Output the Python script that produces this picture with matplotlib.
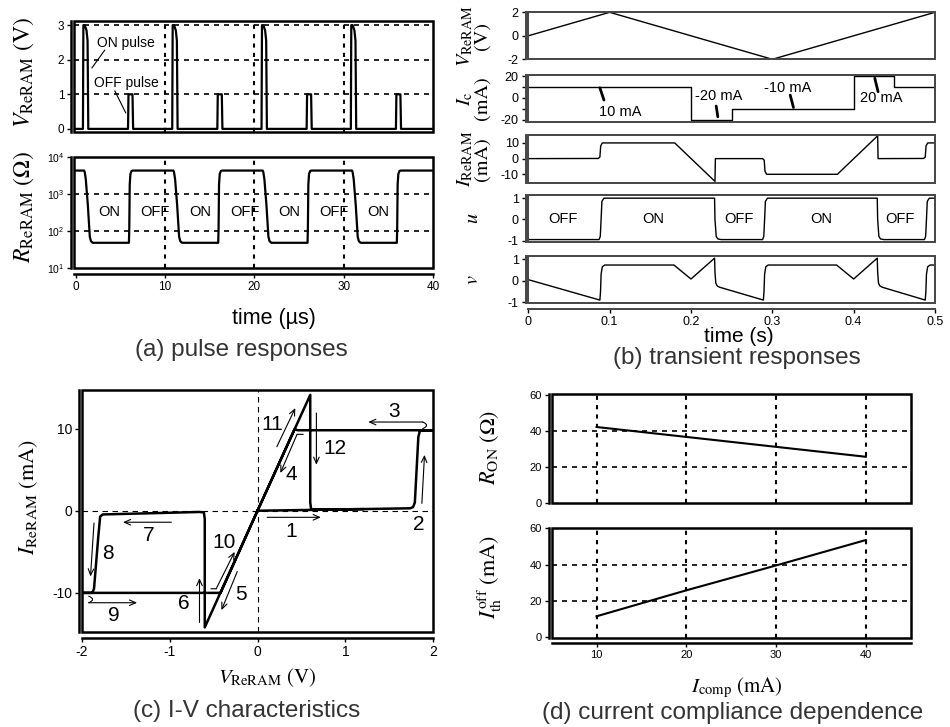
import matplotlib
matplotlib.use("Agg")
import matplotlib.pyplot as plt
from matplotlib.patches import Rectangle
from matplotlib.ticker import NullLocator

plt.rcParams["font.family"] = "Liberation Sans"
plt.rcParams["mathtext.fontset"] = "stix"
plt.rcParams["axes.unicode_minus"] = False

# ---------------- (a) pulse responses ----------------
pulse_time = [
    0, 0.80, 0.85, 1.00, 1.20, 1.32, 1.40, 5.85, 5.90, 6.35, 6.42,
    10.80, 10.85, 11.00, 11.20, 11.32, 11.40, 15.85, 15.90, 16.35, 16.42,
    20.80, 20.85, 21.00, 21.20, 21.32, 21.40, 25.85, 25.90, 26.35, 26.42,
    30.80, 30.85, 31.00, 31.20, 31.32, 31.40, 35.85, 35.90, 36.35, 36.42,
    40]
pulse_volt = [
    0, 0, 3.0, 3.0, 2.85, 2.55, 0, 0, 1.0, 1.0, 0,
    0, 3.0, 3.0, 2.85, 2.55, 0, 0, 1.0, 1.0, 0,
    0, 3.0, 3.0, 2.85, 2.55, 0, 0, 1.0, 1.0, 0,
    0, 3.0, 3.0, 2.85, 2.55, 0, 0, 1.0, 1.0, 0,
    0]

res_time = [
    0, 0.93, 1.00, 1.12, 1.35, 1.57, 1.70, 1.90, 5.95, 5.99, 6.04, 6.12, 6.25, 6.40,
    10.93, 11.00, 11.12, 11.35, 11.57, 11.70, 11.90, 15.95, 15.99, 16.04, 16.12, 16.25, 16.40,
    20.93, 21.00, 21.12, 21.35, 21.57, 21.70, 21.90, 25.95, 25.99, 26.04, 26.12, 26.25, 26.40,
    30.93, 31.00, 31.12, 31.35, 31.57, 31.70, 31.90, 35.95, 35.99, 36.04, 36.12, 36.25, 36.40,
    40]
res_ohm = [
    4300, 4300, 3900, 2500, 500, 70, 53, 48, 48, 120, 1800, 3500, 4200, 4300,
    4300, 3900, 2500, 500, 70, 53, 48, 48, 120, 1800, 3500, 4200, 4300,
    4300, 3900, 2500, 500, 70, 53, 48, 48, 120, 1800, 3500, 4200, 4300,
    4300, 3900, 2500, 500, 70, 53, 48, 48, 120, 1800, 3500, 4200, 4300,
    4300]

state_text = ["ON", "OFF", "ON", "OFF", "ON", "OFF", "ON"]
state_time = [3.8, 8.85, 13.9, 18.9, 23.9, 28.9, 33.9]

# ---------------- (b) transient responses ----------------
b_vt = [0, 0.1, 0.3, 0.5]
b_v = [0, 2, -2, 2]

b_ict = [0, 0.2, 0.2, 0.25, 0.25, 0.4, 0.4, 0.45, 0.45, 0.5]
b_ic = [10, 10, -20, -20, -10, -10, 20, 20, 10, 10]

b_it = [0, 0.086, 0.088, 0.089, 0.091, 0.18, 0.2295, 0.2300, 0.288, 0.290, 0.291,
        0.293, 0.38, 0.4295, 0.4300, 0.486, 0.488, 0.489, 0.491, 0.5]
b_i = [0, 0.1, 1.0, 8.0, 9.9, 9.9, -14.4, 0, 0, -1.0, -8.0,
       -9.9, -9.9, 14.4, 0, 0.1, 1.0, 8.0, 9.9, 9.9]

b_ut = [0, 0.087, 0.0885, 0.0895, 0.0905, 0.093, 0.229, 0.2295, 0.231, 0.233, 0.237,
        0.288, 0.2895, 0.2905, 0.2915, 0.294, 0.429, 0.4295, 0.431, 0.433, 0.437,
        0.487, 0.4885, 0.4895, 0.4905, 0.493, 0.5]
b_u = [-0.95, -0.95, -0.8, 0.0, 0.85, 1.0, 1.0, 0.0, -0.8, -0.92, -0.95,
       -0.95, -0.8, 0.0, 0.85, 1.0, 1.0, 0.0, -0.8, -0.92, -0.95,
       -0.95, -0.8, 0.0, 0.85, 1.0, 1.0]

b_vvt = [0, 0.088, 0.0888, 0.0895, 0.091, 0.094, 0.179, 0.2, 0.229, 0.2295, 0.2305,
         0.232, 0.235, 0.289, 0.2898, 0.2905, 0.292, 0.295, 0.379, 0.4, 0.429,
         0.4295, 0.4305, 0.432, 0.435, 0.488, 0.4888, 0.4895, 0.491, 0.494, 0.5]
b_vv = [0.05, -0.9, -0.5, 0.3, 0.65, 0.73, 0.73, 0.08, 1.05, 0.4, -0.1,
        -0.23, -0.3, -0.9, -0.5, 0.3, 0.65, 0.73, 0.73, 0.08, 1.05,
        0.4, -0.1, -0.23, -0.3, -0.9, -0.5, 0.3, 0.65, 0.73, 0.73]

u_text = ["OFF", "ON", "OFF", "ON", "OFF"]
u_text_time = [0.043, 0.154, 0.259, 0.36, 0.457]

# ---------------- (c) I-V characteristics ----------------
iv_volt = [0, 0.6, 1.2, 1.74, 1.77, 1.79, 1.81, 1.83, 1.85, 2.0, 0.46, 0.42,
           0, -0.6, -0.6, -0.61, -0.66, -1.2, -1.76, -1.79, -1.81, -1.86, -1.88,
           -2.0, -0.42, 0, 0.6, 0.6, 0.61, 0.66, 1.2]
iv_curr = [0, 0.1, 0.2, 0.3, 0.45, 1.0, 5.0, 9.0, 9.8, 9.8, 9.8, 9.9,
           0, -14.2, -1.0, -0.2, -0.15, -0.3, -0.45, -0.7, -3.0, -9.5, -10.0,
           -10.0, -10.0, 0, 14.1, 1.0, 0.2, 0.15, 0.2]

# ---------------- (d) current compliance dependence ----------------
i_comp = [10, 20, 30, 40]
r_on = [42, 36.5, 31, 25.5]
i_th_off = [11.5, 25.8, 39.5, 53.5]

W, H = 950, 727
fig = plt.figure(figsize=(W / 100, H / 100), dpi=100)

SERIF = "STIXGeneral"
CAP = dict(fontsize=17.5, color="#333333", ha="center", va="center")
VGRID = dict(color="black", lw=1.5, ls=(0, (2, 2.5)), zorder=1)
HGRID = dict(color="black", lw=1.2, ls=(0, (3, 3)), zorder=1)


def px_axes(left, top, right, bottom):
    return fig.add_axes([left / W, 1 - bottom / H, (right - left) / W, (bottom - top) / H])


def style_axes(ax, lw=1.8, color="black", xaxis=True, tick_size=8.5):
    for side in ("top", "right"):
        ax.spines[side].set_visible(False)
    ax.spines["left"].set_position(("outward", 2))
    ax.spines["left"].set_linewidth(lw)
    ax.spines["left"].set_color(color)
    if xaxis:
        ax.spines["bottom"].set_position(("outward", 4))
        ax.spines["bottom"].set_linewidth(lw)
        ax.spines["bottom"].set_color(color)
    else:
        ax.spines["bottom"].set_visible(False)
        ax.set_xticks([])
    ax.add_patch(Rectangle((0, 0), 1, 1, transform=ax.transAxes, fill=False,
                           lw=lw, ec=color, clip_on=False, zorder=4))
    ax.tick_params(direction="out", length=3, width=1, labelsize=tick_size, pad=2)


def ftext(x, y, s, **kw):
    fig.text(x / W, 1 - y / H, s, **kw)


# ---- (a) top
ax = px_axes(74, 21, 433, 132)
style_axes(ax, xaxis=False)
ax.plot(pulse_time, pulse_volt, color="black", lw=1.6, zorder=3)
for x in [10, 20, 30]:
    ax.axvline(x, **VGRID)
for y in [1, 2, 3]:
    ax.axhline(y, **HGRID)
ax.set_xlim(-0.2, 40)
ax.set_ylim(-0.09, 3.12)
ax.set_yticks([0, 1, 2, 3])
ax.text(5.6, 2.48, "ON pulse", fontsize=10, ha="center", va="center", zorder=5)
ax.annotate("", xy=(1.8, 1.76), xytext=(3.25, 2.28),
            arrowprops=dict(arrowstyle="-", lw=0.8, shrinkA=0, shrinkB=0))
ax.text(5.7, 1.33, "OFF pulse", fontsize=10, ha="center", va="center", zorder=5)
ax.annotate("", xy=(5.6, 0.46), xytext=(4.37, 1.1),
            arrowprops=dict(arrowstyle="-", lw=0.8, shrinkA=0, shrinkB=0))
ftext(24, 72, "$V_{\\mathrm{ReRAM}}$ (V)", rotation=90, fontsize=17,
      fontfamily=SERIF, ha="center", va="center")

# ---- (a) bottom
ax = px_axes(74, 157, 433, 268)
style_axes(ax)
ax.plot(res_time, res_ohm, color="black", lw=1.6, zorder=3)
ax.set_yscale("log")
for x in [10, 20, 30]:
    ax.axvline(x, **VGRID)
for y in [100, 1000]:
    ax.axhline(y, **HGRID)
ax.set_xlim(-0.2, 40)
ax.set_ylim(10.5, 1e4)
ax.set_yticks([10, 100, 1000, 10000])
ax.yaxis.set_minor_locator(NullLocator())
ax.set_xticks([0, 10, 20, 30, 40])
ax.tick_params(axis="y", labelsize=7.5)
for s, t in zip(state_text, state_time):
    ax.text(t, 330, s, fontsize=10.5, ha="center", va="center", zorder=5)
ftext(24, 207, "$R_{\\mathrm{ReRAM}}$ ($\\Omega$)", rotation=90, fontsize=17,
      fontfamily=SERIF, ha="center", va="center")
ftext(274, 318, "time (µs)", fontsize=15.5, ha="center", va="center")
ftext(241, 350, "(a) pulse responses", **CAP)

# ---- (b) panels
b_boxes = [(12.3, 59.3), (75, 121.7), (135, 182.7), (195, 241.7), (256, 303.3)]
b_series = [(b_vt, b_v), (b_ict, b_ic), (b_it, b_i), (b_ut, b_u), (b_vvt, b_vv)]
b_ylims = [(-2, 2), (-22, 21), (-15.2, 14.9), (-1.05, 1.15), (-1.05, 1.15)]
b_yticks = [[-2, 0, 2], [-20, -10, 0, 10, 20], [-10, 0, 10], [-1, 0, 1], [-1, 0, 1]]
b_labels = ["$V_{\\mathrm{ReRAM}}$\n(V)", "$I_{\\mathrm{c}}$\n(mA)",
            "$I_{\\mathrm{ReRAM}}$\n(mA)", "$u$", "$v$"]
b_axes = []
for k, ((top, bot), (xs, ys)) in enumerate(zip(b_boxes, b_series)):
    ax = px_axes(528.3, top, 935, bot)
    style_axes(ax, lw=1.4, color="#444444", xaxis=(k == 4), tick_size=9)
    ax.plot(xs, ys, color="black", lw=1.0, zorder=3)
    ax.set_xlim(0, 0.5)
    ax.set_ylim(*b_ylims[k])
    ax.set_yticks(b_yticks[k])
    b_axes.append(ax)
    ftext(473, (top + bot) / 2, b_labels[k], rotation=90, fontsize=14.5,
          fontfamily=SERIF, ha="center", va="center", multialignment="center",
          linespacing=0.85)

b_axes[1].set_yticklabels(["-20", "", "0", "", "20"])
b_axes[4].set_xticks([0, 0.1, 0.2, 0.3, 0.4, 0.5])
b_axes[4].set_xticklabels(["0", "0.1", "0.2", "0.3", "0.4", "0.5"])

LEAD = dict(arrowstyle="-", lw=2.0, shrinkA=0, shrinkB=0)
axc = b_axes[1]
axc.text(0.113, -13, "10 mA", fontsize=10.5, ha="center", va="center")
axc.annotate("", xy=(0.093, -2.1), xytext=(0.088, 9.2), arrowprops=LEAD)
axc.text(0.234, 1.5, "-20 mA", fontsize=10.5, ha="center", va="center")
axc.annotate("", xy=(0.233, -17.5), xytext=(0.231, -7.6), arrowprops=LEAD)
axc.text(0.319, 9.0, "-10 mA", fontsize=10.5, ha="center", va="center")
axc.annotate("", xy=(0.326, -8.9), xytext=(0.322, 2.5), arrowprops=LEAD)
axc.text(0.434, -0.6, "20 mA", fontsize=10.5, ha="center", va="center")
axc.annotate("", xy=(0.43, 5.6), xytext=(0.426, 18), arrowprops=LEAD)

for s, t in zip(u_text, u_text_time):
    b_axes[3].text(t, 0, s, fontsize=10.5, ha="center", va="center")

ftext(739, 337, "time (s)", fontsize=15, ha="center", va="center")
ftext(737, 358, "(b) transient responses", **CAP)

# ---- (c) I-V
ax = px_axes(81.7, 390, 433.3, 632.3)
style_axes(ax, tick_size=10)
ax.axhline(0, color="black", lw=0.8, ls=(0, (5, 4)), zorder=1)
ax.axvline(0, color="black", lw=0.8, ls=(0, (5, 4)), zorder=1)
ax.plot(iv_volt, iv_curr, color="black", lw=1.8, zorder=3)
ax.set_xlim(-2, 2)
ax.set_ylim(-14.8, 14.7)
ax.set_xticks([-2, -1, 0, 1, 2])
ax.set_yticks([-10, 0, 10])

ARR = dict(arrowstyle="->,head_length=0.45,head_width=0.2", lw=0.8,
           shrinkA=0, shrinkB=0)
PLAIN = dict(arrowstyle="-", lw=0.8, shrinkA=0, shrinkB=0)
iv_notes = [
    ("1", (0.38, -2.5), (0.11, -0.8), (0.72, -0.8)),
    ("2", (1.84, -1.7), (1.87, 0.9), (1.90, 6.8)),
    ("3", (1.55, 12.1), (1.88, 10.8), (1.26, 10.8)),
    ("4", (0.38, 4.4), (0.45, 9.3), (0.26, 4.6)),
    ("5", (-0.19, -10.2), (-0.23, -7.4), (-0.41, -12.1)),
    ("6", (-0.84, -11.3), (-0.66, -13.6), (-0.66, -8.2)),
    ("7", (-1.24, -3.0), (-0.98, -1.4), (-1.53, -1.4)),
    ("8", (-1.70, -5.2), (-1.86, -1.5), (-1.90, -8.0)),
    ("9", (-1.64, -12.7), (-1.92, -11.2), (-1.37, -11.2)),
    ("10", (-0.38, -3.9), (-0.47, -9.5), (-0.26, -5.0)),
    ("11", (0.17, 10.5), (0.22, 7.8), (0.43, 12.5)),
    ("12", (0.88, 7.6), (0.67, 11.9), (0.67, 5.6)),
]
for s, pos, start, end in iv_notes:
    ax.text(pos[0], pos[1], s, fontsize=15, ha="center", va="center")
    ax.annotate("", xy=end, xytext=start, arrowprops=ARR)
# hooks on arrows 3, 4, 9 and 10
ax.annotate("", xy=(1.88, 10.8), xytext=(1.88, 10.0),
            arrowprops=dict(PLAIN, connectionstyle="arc3,rad=1.2"))
ax.annotate("", xy=(-1.92, -11.2), xytext=(-1.92, -10.4),
            arrowprops=dict(PLAIN, connectionstyle="arc3,rad=-1.2"))
ax.annotate("", xy=(0.52, 9.3), xytext=(0.45, 9.3), arrowprops=PLAIN)
ax.annotate("", xy=(-0.53, -9.5), xytext=(-0.47, -9.5), arrowprops=PLAIN)

ftext(29, 497, "$I_{\\mathrm{ReRAM}}$ (mA)", rotation=90, fontsize=16,
      fontfamily=SERIF, ha="center", va="center")
ftext(267, 678, "$V_{\\mathrm{ReRAM}}$ (V)", fontsize=15, fontfamily=SERIF,
      ha="center", va="center")
ftext(247, 711, "(c) I-V characteristics", **CAP)

# ---- (d) top / bottom
for k, (top, bot, ys) in enumerate([(394, 503.3, r_on), (527.7, 637.7, i_th_off)]):
    ax = px_axes(551.7, top, 910.7, bot)
    style_axes(ax, xaxis=(k == 1), tick_size=8)
    ax.plot(i_comp, ys, color="black", lw=1.5, zorder=3)
    for x in i_comp:
        ax.axvline(x, **VGRID)
    for y in [20, 40]:
        ax.axhline(y, **HGRID)
    ax.set_xlim(5, 45)
    ax.set_ylim(-0.3, 60.3)
    ax.set_yticks([0, 20, 40, 60])
    if k == 1:
        ax.set_xticks(i_comp)

ftext(490, 447, "$R_{\\mathrm{ON}}$ ($\\Omega$)", rotation=90, fontsize=16,
      fontfamily=SERIF, ha="center", va="center")
ftext(490, 577, "$I_{\\mathrm{th}}^{\\mathrm{off}}$ (mA)", rotation=90, fontsize=16,
      fontfamily=SERIF, ha="center", va="center")
ftext(737, 688, "$I_{\\mathrm{comp}}$ (mA)", fontsize=15, fontfamily=SERIF,
      ha="center", va="center")
ftext(733, 713, "(d) current compliance dependence", **CAP)

fig.savefig("out.png", dpi=100)
plt.close(fig)
